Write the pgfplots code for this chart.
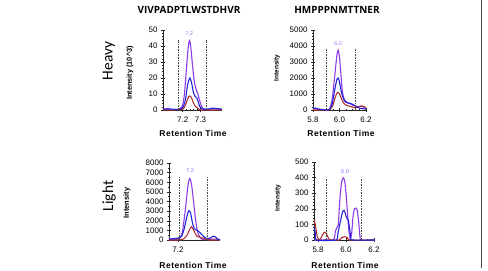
\documentclass[border=0pt]{standalone}
\usepackage{pgfplots}
\pgfplotsset{compat=1.18}
\usepackage{fontspec}
\setmainfont{Liberation Sans}
\newfontfamily\osans{Open Sans}
\newfontfamily\carl{Carlito}
\definecolor{cpurple}{RGB}{140,60,230}
\definecolor{cblue}{RGB}{35,35,215}
\definecolor{cred}{RGB}{175,50,50}
\definecolor{clabel}{RGB}{160,110,250}
\tikzset{
 dline/.style={densely dotted, black!70, line width=0.6pt},
 flag/.style={fill=black},
 plab/.style={font=\fontsize{5.5}{5.5}\selectfont, text=clabel},
 rt/.style={font=\bfseries\fontsize{8.5}{8.5}\selectfont\addfontfeatures{LetterSpace=6}},
 ttl/.style={font=\osans\bfseries\fontsize{10}{10}\selectfont}
}
\pgfplotsset{
 chrom/.style={scale only axis, axis x line=bottom, axis y line=left,
   axis line style={-, black!85, line width=0.6pt},
   tick align=center, major tick length=4bp, minor tick length=2bp,
   tick style={black!85, line width=0.5pt},
   ticklabel style={font=\fontsize{8}{8}\selectfont},
   xticklabel style={yshift=-1bp},
   /pgf/number format/assume math mode=true,
   /pgf/number format/1000 sep={}, scaled y ticks=false, scaled x ticks=false,
   clip=false, ymin=0,
   every axis plot/.append style={line width=1.1pt, smooth, tension=0.4}}
}
\begin{document}
\begin{tikzpicture}
\useasboundingbox (0,0) rectangle (488bp,-271bp);
\node[ttl] at (189bp,-10bp) {VIVPADPTLWSTDHVR};
\node[ttl] at (337bp,-10bp) {HMPPPNMTTNER};
\node[rotate=90, font=\carl\fontsize{15.5}{15.5}\selectfont] at (109bp,-61bp) {Heavy};
\node[rotate=90, font=\carl\fontsize{15.5}{15.5}\selectfont] at (109bp,-196bp) {Light};
\node[rotate=90, font=\bfseries\fontsize{7.4}{7.4}\selectfont] at (130bp,-73bp) {Intensity (10\^{}3)};
\node[rotate=90, font=\bfseries\fontsize{6.5}{6.5}\selectfont] at (277bp,-68bp) {Intensity};
\node[rotate=90, font=\bfseries\fontsize{7.5}{7.5}\selectfont] at (127bp,-203bp) {Intensity};
\node[rotate=90, font=\bfseries\fontsize{6.5}{6.5}\selectfont] at (278bp,-198bp) {Intensity};
\node[rt] at (193bp,-133bp) {Retention Time};
\node[rt] at (341bp,-133bp) {Retention Time};
\node[rt] at (193bp,-265bp) {Retention Time};
\node[rt] at (345bp,-265bp) {Retention Time};
\draw[black!70, line width=0.8pt] (481bp,0) -- (481bp,-268bp);

% Top-left
\begin{axis}[chrom, at={(163bp,-110bp)}, anchor=south west, width=59bp, height=80bp,
  xmin=7.09, xmax=7.42, ymax=50, ytick={0,10,...,50}, minor y tick num=4,
  xtick={7.2,7.3}, xticklabels={7.2,7.3}, minor x tick num=4]
\addplot[cpurple] coordinates {(7.09,0.3)(7.11,0.5)(7.13,0.2)(7.15,0.4)(7.17,0.3)(7.185,0.8)(7.2,3)(7.21,10)(7.22,24)(7.23,38)(7.238,43.5)(7.245,40)(7.255,28)(7.265,18)(7.275,13)(7.285,10)(7.295,6)(7.305,2.5)(7.315,0.8)(7.33,0.3)(7.35,0.8)(7.37,1.2)(7.39,0.6)(7.42,0.3)};
\addplot[cred] coordinates {(7.09,0)(7.15,0)(7.2,0.5)(7.215,3)(7.23,7.5)(7.24,8.8)(7.25,7.5)(7.26,4.5)(7.27,2.5)(7.28,1.5)(7.29,0.5)(7.31,0)(7.42,0)};
\addplot[cblue] coordinates {(7.09,0.5)(7.12,0.8)(7.15,0.3)(7.18,0.5)(7.2,1.5)(7.215,6)(7.228,16)(7.24,20)(7.25,17)(7.26,11)(7.27,8.5)(7.28,7.5)(7.29,4)(7.3,1.5)(7.32,0.5)(7.35,0.6)(7.38,1)(7.42,0.5)};
\draw[dline] (axis cs:7.178,0) -- (axis cs:7.178,44);
\draw[dline] (axis cs:7.333,0) -- (axis cs:7.333,44);
\fill[flag] (axis cs:7.178,44) ++(0,2bp) -- ++(7bp,-2bp) -- ++(-7bp,-2bp) -- cycle;
\node[plab] at (axis cs:7.238,48) {7.2};
\end{axis}

% Top-right
\begin{axis}[chrom, at={(313bp,-110bp)}, anchor=south west, width=53bp, height=80bp,
  xmin=5.8, xmax=6.2, ymax=5000, ytick={0,1000,...,5000}, minor y tick num=4,
  xtick={5.8,6.0,6.2}, xticklabels={5.8,6.0,6.2}, minor x tick num=3]
\addplot[cpurple] coordinates {(5.8,50)(5.82,100)(5.84,50)(5.87,20)(5.9,0)(5.925,50)(5.945,700)(5.965,2200)(5.98,3400)(5.99,3750)(6.0,3300)(6.01,2300)(6.02,1300)(6.03,800)(6.045,550)(6.06,450)(6.08,400)(6.1,300)(6.12,250)(6.14,200)(6.16,250)(6.18,200)(6.2,100)};
\addplot[cred] coordinates {(5.8,0)(5.9,0)(5.93,50)(5.95,300)(5.97,850)(5.985,1100)(6.0,1000)(6.015,700)(6.03,450)(6.05,300)(6.07,250)(6.09,200)(6.11,150)(6.13,150)(6.15,200)(6.17,250)(6.19,200)(6.2,100)};
\addplot[cblue] coordinates {(5.8,80)(5.82,120)(5.84,60)(5.87,30)(5.9,0)(5.925,50)(5.945,400)(5.965,1300)(5.98,1900)(5.99,2000)(6.0,1750)(6.015,1100)(6.03,700)(6.045,500)(6.06,450)(6.08,420)(6.1,350)(6.12,250)(6.14,150)(6.16,100)(6.18,80)(6.2,50)};
\draw[dline] (axis cs:5.903,0) -- (axis cs:5.903,3850);
\draw[dline] (axis cs:6.117,0) -- (axis cs:6.117,3850);
\fill[flag] (axis cs:5.903,3850) ++(0,2bp) -- ++(7bp,-2bp) -- ++(-7bp,-2bp) -- cycle;
\node[plab] at (axis cs:5.99,4150) {6.0};
\end{axis}

% Bottom-left
\begin{axis}[chrom, at={(169bp,-240bp)}, anchor=south west, width=51bp, height=77bp,
  xmin=7.15, xmax=7.433, ymax=8000, ytick={0,1000,...,8000}, minor y tick num=1,
  xtick={7.2}, xticklabels={7.2}]
\addplot[cpurple] coordinates {(7.15,50)(7.18,50)(7.2,100)(7.215,300)(7.225,900)(7.24,3000)(7.255,5600)(7.265,6400)(7.275,5800)(7.285,4200)(7.295,2500)(7.305,1200)(7.315,500)(7.33,100)(7.36,50)(7.4,100)(7.433,50)};
\addplot[cred] coordinates {(7.15,0)(7.2,0)(7.23,100)(7.25,500)(7.265,1100)(7.275,1380)(7.285,1100)(7.295,700)(7.305,400)(7.32,300)(7.335,200)(7.35,100)(7.37,0)(7.433,0)};
\addplot[cblue] coordinates {(7.15,100)(7.18,150)(7.2,200)(7.22,400)(7.235,1200)(7.25,2500)(7.26,3050)(7.27,2800)(7.28,1800)(7.29,1200)(7.3,1050)(7.315,900)(7.33,600)(7.345,300)(7.36,150)(7.38,200)(7.395,400)(7.41,300)(7.42,100)(7.433,50)};
\draw[dline] (axis cs:7.206,0) -- (axis cs:7.206,6600);
\draw[dline] (axis cs:7.36,0) -- (axis cs:7.36,6600);
\fill[flag] (axis cs:7.206,6600) ++(0,2bp) -- ++(7bp,-2bp) -- ++(-7bp,-2bp) -- cycle;
\node[plab] at (axis cs:7.267,7250) {7.2};
\end{axis}

% Bottom-right
\begin{axis}[chrom, at={(314bp,-240bp)}, anchor=south west, width=61bp, height=78bp,
  xmin=5.771, xmax=6.207, ymax=500, ytick={0,100,...,500}, minor y tick num=4,
  xtick={5.8,6.0,6.2}, xticklabels={5.8,6.0,6.2}, minor x tick num=3]
\addplot[cpurple] coordinates {(5.771,0)(5.8,0)(5.9,0)(5.915,5)(5.925,60)(5.935,80)(5.945,100)(5.955,250)(5.968,370)(5.98,398)(5.99,380)(6.0,300)(6.01,180)(6.02,60)(6.03,10)(6.04,40)(6.05,150)(6.06,200)(6.07,205)(6.08,190)(6.09,120)(6.1,20)(6.11,0)(6.207,0)};
\addplot[cred] coordinates {(5.771,130)(5.78,100)(5.795,20)(5.81,0)(5.825,20)(5.845,50)(5.86,40)(5.875,10)(5.885,0)(5.95,0)(5.97,15)(5.99,22)(6.01,15)(6.03,0)(6.207,0)};
\addplot[cblue] coordinates {(5.771,80)(5.78,50)(5.79,0)(5.93,0)(5.94,30)(5.95,80)(5.96,120)(5.975,180)(5.985,190)(5.995,170)(6.005,140)(6.015,130)(6.025,80)(6.035,10)(6.045,0)(6.207,0)};
\draw[dline] (axis cs:5.862,0) -- (axis cs:5.862,395);
\draw[dline] (axis cs:6.107,0) -- (axis cs:6.107,395);
\fill[flag] (axis cs:5.91,405) ++(0,2bp) -- ++(7bp,-2bp) -- ++(-7bp,-2bp) -- cycle;
\node[plab] at (axis cs:5.993,440) {6.0};
\end{axis}
\end{tikzpicture}
\end{document}
